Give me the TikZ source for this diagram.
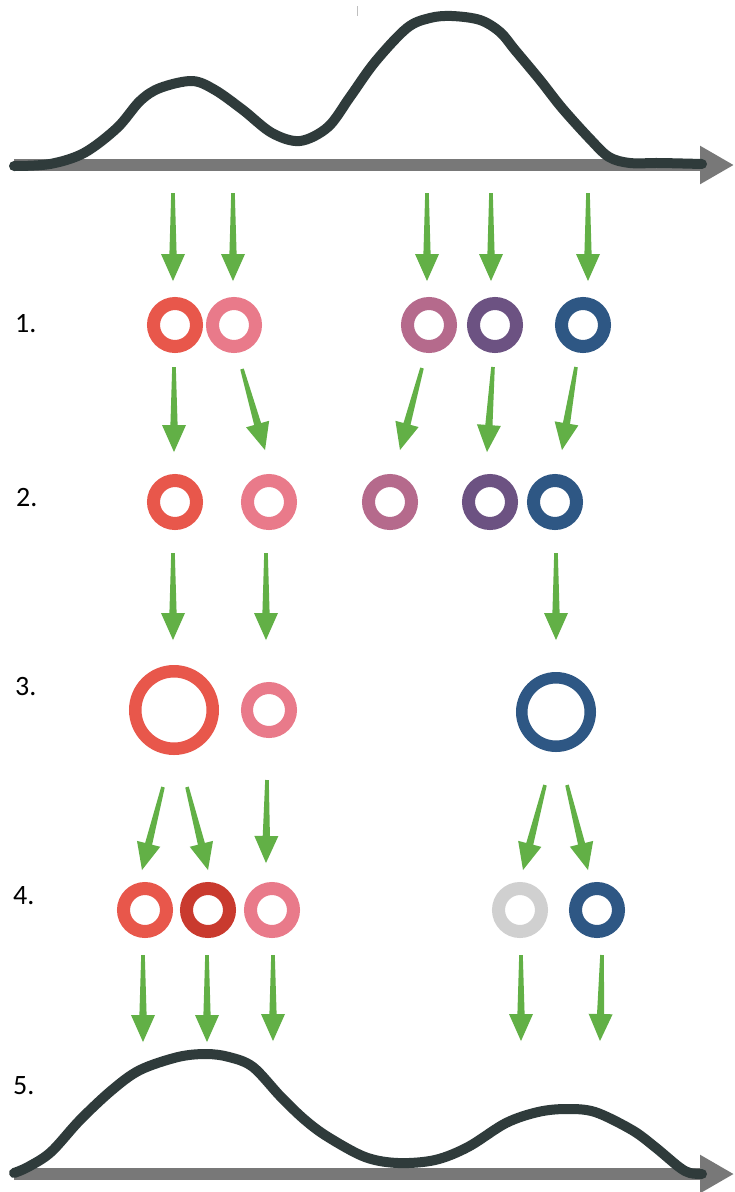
\documentclass[tikz,border=0pt]{standalone}
\usepackage{fontspec}
\setmainfont{Carlito}
\usetikzlibrary{calc,arrows.meta}
\definecolor{cred}{HTML}{E8574B}
\definecolor{cpink}{HTML}{E97A8A}
\definecolor{cmauve}{HTML}{B56A8C}
\definecolor{cpurple}{HTML}{6C5282}
\definecolor{cnavy}{HTML}{2E5784}
\definecolor{cdred}{HTML}{C93A2E}
\definecolor{cgray}{HTML}{D0D0D0}
\definecolor{cgreen}{HTML}{62B046}
\definecolor{caxis}{HTML}{787878}
\definecolor{ccurve}{HTML}{2F3B3B}
\newcommand\garr[2]{%
  \coordinate (hb) at ($(#2)!27pt!(#1)$);
  \fill[garrowfill] ($(#1)!1.8pt!90:(#2)$) -- ($(hb)!3.6pt!90:(#2)$) -- ($(hb)!12pt!90:(#2)$) -- (#2)
     -- ($(hb)!12pt!-90:(#2)$) -- ($(hb)!3.6pt!-90:(#2)$) -- ($(#1)!1.8pt!-90:(#2)$) -- cycle;}
\begin{document}
\begin{tikzpicture}[x=1pt,y=-1pt,
  ring/.style={circle,draw=#1,inner sep=0pt,minimum size=43pt,line width=13pt},
  garrowfill/.style={fill=cgreen},
  axisline/.style={draw=caxis,line width=12pt,-{Triangle[length=34pt,width=36pt]}},
  curve/.style={draw=ccurve,line width=10pt,line cap=round,line join=round},
  lab/.style={font=\fontsize{28}{32}\selectfont,inner sep=0pt,anchor=west}]
\useasboundingbox[fill=white] (0,0) rectangle (734,1192);

% small artifact tick at the top
\draw[gray!50,line width=1pt] (357,6) -- (357,16);

% top distribution
\coordinate (ax1s) at (14,165);
\coordinate (ax1e) at (734,165);
\draw[axisline] (ax1s) -- (ax1e);
\draw[curve] plot[smooth,tension=0.55] coordinates {
 (14,166) (50,164) (84,153) (117,128) (140,101) (160,88) (192,81) (215,90)
 (243,110) (272,133) (300,141) (328,127) (350,97) (375,62) (407,28) (430,18)
 (452,16) (480,20) (500,32) (515,50) (540,80) (562,108) (590,139) (609,157)
 (630,163) (660,163) (702,164)};

% labels
\node[lab] (l1) at (15,324) {1.};
\node[lab] (l2) at (16,498) {2.};
\node[lab] (l3) at (15,687) {3.};
\node[lab] (l4) at (13,896) {4.};
\node[lab] (l5) at (13,1086) {5.};

% row 1
\node[ring=cred] (r1a) at (175,325) {};
\node[ring=cpink] (r1b) at (234,325) {};
\node[ring=cmauve] (r1c) at (429,325) {};
\node[ring=cpurple] (r1d) at (495,325) {};
\node[ring=cnavy] (r1e) at (583,325) {};
% row 2
\node[ring=cred] (r2a) at (175,502) {};
\node[ring=cpink] (r2b) at (269,502) {};
\node[ring=cmauve] (r2c) at (390,502) {};
\node[ring=cpurple] (r2d) at (490,502) {};
\node[ring=cnavy] (r2e) at (555,502) {};
% row 3
\node[ring=cred,minimum size=77.5pt,line width=12.5pt] (r3a) at (174,710) {};
\node[ring=cpink,minimum size=44pt,line width=12pt] (r3b) at (269,710) {};
\node[ring=cnavy,minimum size=68.5pt,line width=11.5pt] (r3c) at (556,712) {};
% row 4
\node[ring=cred] (r4a) at (145,910) {};
\node[ring=cdred] (r4b) at (208,910) {};
\node[ring=cpink] (r4c) at (272,910) {};
\node[ring=cgray] (r4d) at (520,910) {};
\node[ring=cnavy] (r4e) at (597,910) {};

% arrow end points
\coordinate (a01s) at (173,193); \coordinate (a01e) at (173,281);
\coordinate (a02s) at (233,193); \coordinate (a02e) at (233,281);
\coordinate (a03s) at (427,193); \coordinate (a03e) at (427,281);
\coordinate (a04s) at (491,193); \coordinate (a04e) at (491,281);
\coordinate (a05s) at (588,193); \coordinate (a05e) at (588,281);

\coordinate (a11s) at (174,367); \coordinate (a11e) at (174,452);
\coordinate (a12s) at (242,369); \coordinate (a12e) at (265,450);
\coordinate (a13s) at (422,368); \coordinate (a13e) at (400,450);
\coordinate (a14s) at (493,367); \coordinate (a14e) at (487,452);
\coordinate (a15s) at (576,367); \coordinate (a15e) at (562,450);

\coordinate (a21s) at (173,553); \coordinate (a21e) at (173,640);
\coordinate (a22s) at (266,553); \coordinate (a22e) at (266,640);
\coordinate (a23s) at (556,553); \coordinate (a23e) at (556,640);

\coordinate (a31s) at (163,787); \coordinate (a31e) at (142,870);
\coordinate (a32s) at (187,787); \coordinate (a32e) at (208,870);
\coordinate (a33s) at (267,780); \coordinate (a33e) at (266,863);
\coordinate (a34s) at (545,785); \coordinate (a34e) at (523,870);
\coordinate (a35s) at (567,785); \coordinate (a35e) at (588,870);

\coordinate (a41s) at (143,955); \coordinate (a41e) at (143,1042);
\coordinate (a42s) at (207,955); \coordinate (a42e) at (207,1042);
\coordinate (a43s) at (273,955); \coordinate (a43e) at (273,1041);
\coordinate (a44s) at (521,955); \coordinate (a44e) at (521,1041);
\coordinate (a45s) at (602,955); \coordinate (a45e) at (600,1041);

\foreach \i in {01,02,03,04,05,11,12,13,14,15,21,22,23,31,32,33,34,35,41,42,43,44,45}{
  \garr{a\i s}{a\i e}
}

% bottom distribution
\coordinate (ax2s) at (14,1174);
\coordinate (ax2e) at (734,1174);
\draw[axisline] (ax2s) -- (ax2e);
\draw[curve] plot[smooth,tension=0.55] coordinates {
 (14,1173) (28,1167) (51,1152) (80,1120) (112,1090) (140,1070) (178,1057)
 (206,1054) (229,1057) (253,1067) (281,1097) (305,1120) (328,1137) (365,1157)
 (398,1163) (435,1160) (468,1147) (506,1123) (538,1112) (566,1109) (595,1112)
 (632,1130) (655,1147) (679,1167) (690,1173) (702,1174)};
\end{tikzpicture}
\end{document}
